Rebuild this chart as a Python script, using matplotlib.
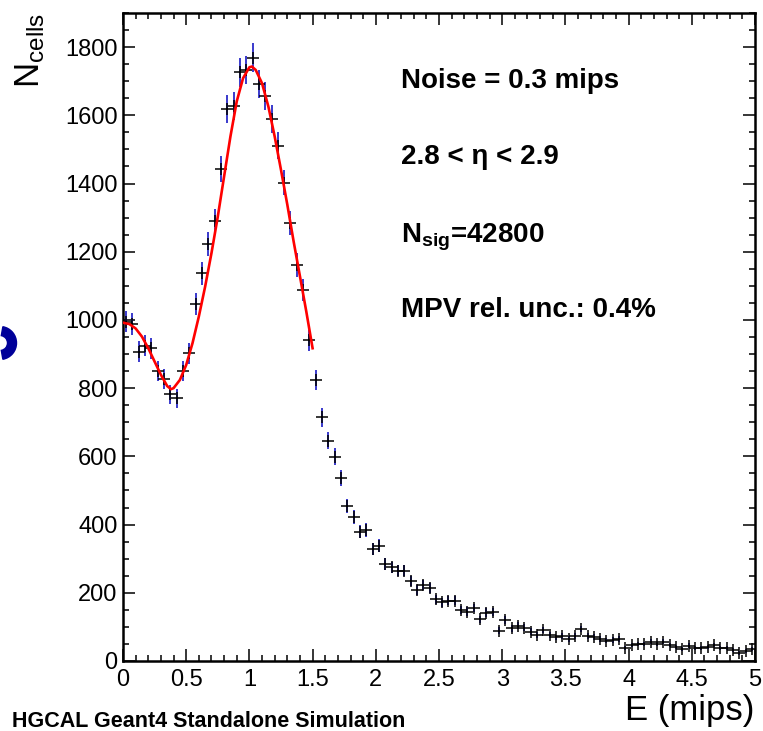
import numpy as np
import matplotlib
matplotlib.use("Agg")
import matplotlib.pyplot as plt
from matplotlib.ticker import MultipleLocator
from matplotlib.patches import Wedge

plt.rcParams['font.family'] = ['Liberation Sans', 'DejaVu Sans']
plt.rcParams['mathtext.fontset'] = 'custom'
plt.rcParams['mathtext.rm'] = 'Liberation Sans'
plt.rcParams['mathtext.it'] = 'Liberation Sans:italic'
plt.rcParams['mathtext.bf'] = 'Liberation Sans:bold'

# histogram: 100 bins of 0.05 mips from 0 to 5
bin_width = 0.05
counts = [995, 988, 907, 924, 917, 851, 826, 782, 770, 851,
          902, 1047, 1137, 1222, 1290, 1443, 1619, 1628, 1726, 1733,
          1769, 1691, 1657, 1589, 1511, 1403, 1284, 1161, 1088, 941,
          824, 714, 646, 599, 536, 455, 421, 379, 384, 328,
          338, 284, 275, 264, 264, 235, 208, 222, 215, 181,
          172, 176, 176, 150, 145, 155, 122, 142, 143, 89,
          120, 96, 104, 98, 86, 76, 91, 76, 69, 73,
          65, 73, 94, 73, 71, 65, 59, 62, 65, 39,
          47, 50, 50, 57, 50, 57, 47, 40, 34, 45,
          37, 37, 40, 47, 37, 37, 32, 23, 29, 34]

# fit curve
fit_x = [0.0, 0.05, 0.1, 0.15, 0.2, 0.25, 0.3, 0.35, 0.38, 0.4, 0.45, 0.5,
         0.55, 0.6, 0.65, 0.7, 0.75, 0.8, 0.85, 0.9, 0.95, 1.0, 1.02, 1.05,
         1.1, 1.15, 1.2, 1.25, 1.3, 1.35, 1.4, 1.45, 1.5]
fit_y = [992, 988, 975, 951, 917, 878, 839, 806, 797, 800, 824, 868,
         932, 1010, 1098, 1196, 1303, 1421, 1538, 1641, 1709, 1741, 1743, 1733,
         1694, 1626, 1538, 1440, 1338, 1230, 1128, 1025, 917]

info_lines = ['Noise = 0.3 mips', '2.8 < η < 2.9',
              r'$\mathbf{N_{sig}}$=42800', 'MPV rel. unc.: 0.4%']

counts = np.array(counts, dtype=float)
centers = bin_width * (np.arange(len(counts)) + 0.5)
errs = np.sqrt(counts)

fig = plt.figure(figsize=(7.63, 7.31), dpi=100)
ax = fig.add_axes([0.1612, 0.0958, 0.8283, 0.8864])

# blue vertical error bars, black cross on top
ax.errorbar(centers, counts, yerr=errs, fmt='none', ecolor='#2a2ac8',
            elinewidth=1.3, capsize=0, zorder=2)
ax.plot(centers, counts, ls='none', marker='+', ms=8, mew=1.1, color='black', zorder=3)

ax.plot(fit_x, fit_y, color='red', lw=1.9, zorder=4)

ax.set_xlim(0, 5)
ax.set_ylim(0, 1900)
ax.xaxis.set_major_locator(MultipleLocator(0.5))
ax.xaxis.set_minor_locator(MultipleLocator(0.1))
ax.yaxis.set_major_locator(MultipleLocator(200))
ax.yaxis.set_minor_locator(MultipleLocator(50))
ax.xaxis.set_major_formatter(plt.FuncFormatter(lambda v, p: ('%g' % v)))
ax.tick_params(which='both', direction='in', top=True, right=True,
               labelsize=17, width=1.1)
ax.tick_params(which='major', length=8.6)
ax.tick_params(which='minor', length=4.3)
ax.tick_params(axis='x', pad=6)
ax.tick_params(axis='y', pad=4)
for s in ax.spines.values():
    s.set_linewidth(1.8)

# info text
baselines = [88, 164, 242, 317]
for txt, yb in zip(info_lines, baselines):
    ax.text(401 / 763, 1 - yb / 731, txt, transform=fig.transFigure,
            fontsize=20, fontweight='bold', ha='left', va='baseline')

fig.text(0.04, 0.982, r'$\mathrm{N_{cells}}$', rotation=90, fontsize=25,
         ha='center', va='top')
fig.text(0.989, 0.006, 'E (mips)', fontsize=25, ha='right', va='bottom')
fig.text(0.016, 1 - 727 / 731, 'HGCAL Geant4 Standalone Simulation', fontsize=15.5,
         fontweight='bold', ha='left', va='baseline')

# cut-off blue mark at the left edge
fig.patches.append(Wedge((0.0, 3.88), 0.165, -80, 80, width=0.09,
                         color='#000099', transform=fig.dpi_scale_trans))

fig.savefig('out.png', dpi=100)
